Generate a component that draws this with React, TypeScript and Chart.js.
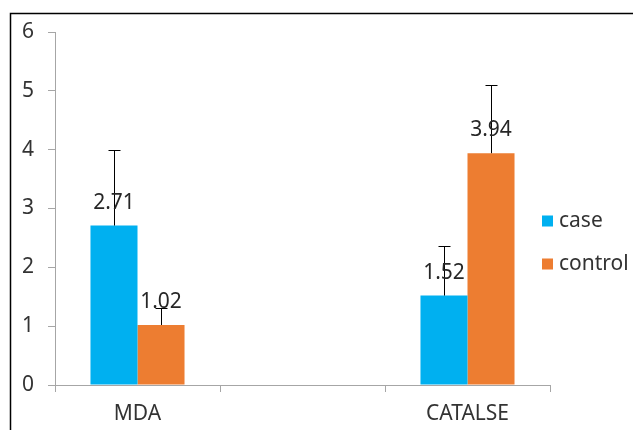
import React, { useEffect, useRef } from "react";
import { Chart, registerables } from "chart.js";

Chart.register(...registerables);

const categories: string[] = ["MDA", "", "CATALSE"];
const seriesNames: string[] = ["case", "control"];
const caseValues: (number | null)[] = [2.71, null, 1.52];
const controlValues: (number | null)[] = [1.02, null, 3.94];
const caseErrors: (number | null)[] = [1.29, null, 0.84];
const controlErrors: (number | null)[] = [0.29, null, 1.16];
const colors: string[] = ["#00B0F0", "#ED7D31"];
const yTicks: number[] = [0, 1, 2, 3, 4, 5, 6];

const FONT = "'Noto Sans', 'DejaVu Sans', sans-serif";
const TEXT = "#333333";
const AXIS = "#A6A6A6";

const overlayPlugin = {
  id: "overlay",
  afterDatasetsDraw(chart: any) {
    const ctx = chart.ctx;
    const yScale = chart.scales.y;
    const errs = [caseErrors, controlErrors];
    ctx.save();
    chart.data.datasets.forEach((ds: any, di: number) => {
      const meta = chart.getDatasetMeta(di);
      meta.data.forEach((bar: any, i: number) => {
        const v = ds.data[i];
        if (v === null || v === undefined) return;
        const e = errs[di][i];
        const x = Math.round(bar.x) + 0.5;
        if (e !== null && e !== undefined) {
          const yTop = Math.round(yScale.getPixelForValue(v + e)) + 0.5;
          const yBase = bar.y;
          ctx.strokeStyle = "#000000";
          ctx.lineWidth = 1;
          ctx.beginPath();
          ctx.moveTo(x, yBase);
          ctx.lineTo(x, yTop);
          ctx.moveTo(x - 6, yTop);
          ctx.lineTo(x + 6, yTop);
          ctx.stroke();
        }
      });
    });
    chart.data.datasets.forEach((ds: any, di: number) => {
      const meta = chart.getDatasetMeta(di);
      meta.data.forEach((bar: any, i: number) => {
        const v = ds.data[i];
        if (v === null || v === undefined) return;
        ctx.fillStyle = "#262626";
        ctx.font = `21px ${FONT}`;
        ctx.textAlign = "center";
        ctx.textBaseline = "middle";
        ctx.fillText(v.toFixed(2), bar.x, bar.y - 23);
      });
    });
    // legend
    ctx.font = `21px ${FONT}`;
    ctx.textAlign = "left";
    ctx.textBaseline = "middle";
    seriesNames.forEach((name, i) => {
      const cy = 221 + i * 43;
      ctx.fillStyle = colors[i];
      ctx.fillRect(542, cy - 5.5, 11, 11);
      ctx.fillStyle = TEXT;
      ctx.fillText(name, 559, cy);
    });
    // outer border (left and top)
    ctx.strokeStyle = "#000000";
    ctx.lineWidth = 1.5;
    ctx.beginPath();
    ctx.moveTo(10.5, chart.height);
    ctx.lineTo(10.5, 13.5);
    ctx.lineTo(chart.width, 13.5);
    ctx.stroke();
    ctx.restore();
  },
};

export default function App() {
  const ref = useRef<HTMLCanvasElement | null>(null);
  useEffect(() => {
    if (!ref.current) return;
    const chart = new Chart(ref.current, {
      type: "bar",
      data: {
        labels: categories,
        datasets: [
          {
            label: seriesNames[0],
            data: caseValues,
            backgroundColor: colors[0],
            borderWidth: 0,
          },
          {
            label: seriesNames[1],
            data: controlValues,
            backgroundColor: colors[1],
            borderWidth: 0,
          },
        ],
      },
      options: {
        responsive: false,
        animation: false,
        devicePixelRatio: 1,
        layout: { padding: { top: 32, right: 83, left: 0, bottom: 0 } },
        plugins: {
          legend: { display: false },
          tooltip: { enabled: false },
        },
        datasets: {
          bar: { categoryPercentage: 0.57, barPercentage: 1.0 },
        },
        scales: {
          x: {
            grid: {
              display: true,
              drawOnChartArea: false,
              drawTicks: true,
              tickLength: 7,
              color: AXIS,
              offset: true,
            },
            border: { display: true, color: AXIS, width: 1 },
            ticks: {
              color: TEXT,
              font: { family: FONT, size: 21 },
              padding: 9,
              maxRotation: 0,
              autoSkip: false,
            },
            afterFit(scale: any) {
              scale.height = 45;
            },
          },
          y: {
            min: 0,
            max: 6,
            afterBuildTicks(scale: any) {
              scale.ticks = yTicks.map((v) => ({ value: v }));
            },
            grid: {
              display: true,
              drawOnChartArea: false,
              drawTicks: true,
              tickLength: 7,
              color: AXIS,
            },
            border: { display: true, color: AXIS, width: 1 },
            ticks: {
              color: TEXT,
              font: { family: FONT, size: 21 },
              padding: 14,
            },
            afterFit(scale: any) {
              scale.width = 55;
            },
          },
        },
      },
      plugins: [overlayPlugin],
    });
    return () => chart.destroy();
  }, []);
  return (
    <div style={{ position: "fixed", left: 0, top: 0, width: 633, height: 430, background: "#fff" }}>
      <canvas ref={ref} width={633} height={430} style={{ width: 633, height: 430 }} />
    </div>
  );
}
